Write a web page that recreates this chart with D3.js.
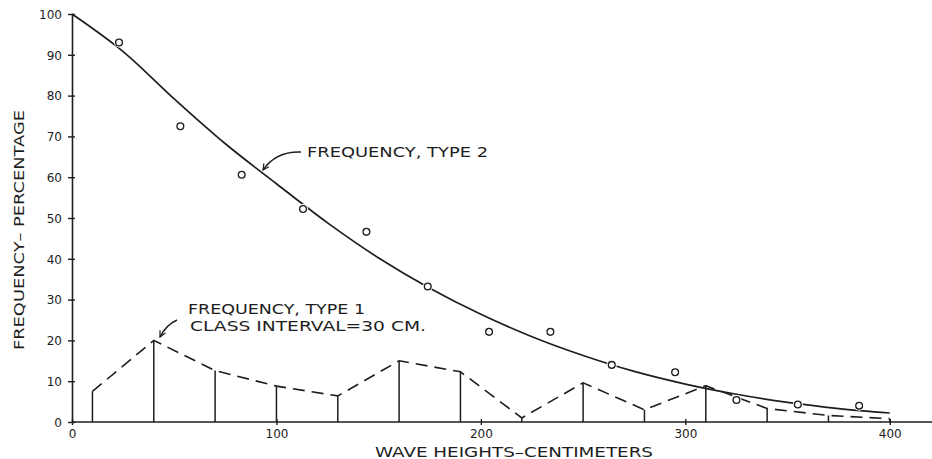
<!DOCTYPE html>
<html>
<head>
<meta charset="utf-8">
<script src="https://cdn.jsdelivr.net/npm/d3@7"></script>
<style>
  html, body { margin: 0; padding: 0; background: #fff; }
  svg { display: block; }
  text { font-family: "DejaVu Sans", sans-serif; fill: #1e1e1e; }
</style>
</head>
<body>
<svg id="chart" width="932" height="459"></svg>
<script>
// Class-interval frequencies (type 1), 30 cm classes
const classHeights = [10, 40, 70, 100, 130, 160, 190, 220, 250, 280, 310, 340, 370, 400];
const type1Freq = [7.5, 20, 12.6, 8.8, 6.4, 15, 12.3, 1, 9.6, 3, 8.9, 3.3, 1.6, 0.8];

// Observed cumulative frequencies (type 2)
const observedHeights = [23, 53, 83, 113, 144, 174, 204, 234, 264, 295, 325, 355, 385];
const observedFreq = [93, 72.5, 60.6, 52.2, 46.6, 33.2, 22.1, 22.1, 14, 12.2, 5.4, 4.3, 4.0];

// Smoothed type 2 curve
const curveHeights = [0, 25, 50, 75, 100, 125, 150, 175, 200, 225, 250, 275, 300, 325, 350, 375, 400];
const curveFreq = [100, 90.8, 79.2, 68.2, 58.4, 48.8, 40.2, 32.8, 26.4, 20.9, 16.3, 12.4, 9.3, 6.8, 4.8, 3.3, 2.2];

// Axis ticks
const xTicks = [0, 100, 200, 300, 400];
const yTicks = [0, 10, 20, 30, 40, 50, 60, 70, 80, 90, 100];

const ink = "#1e1e1e";
const svg = d3.select("#chart");

const x = d3.scaleLinear().domain([0, 400]).range([72, 889.8]);
const y = d3.scaleLinear().domain([0, 100]).range([422, 14]);

// Axes
const yAxis = svg.append("g")
  .attr("transform", `translate(${x(0)},0)`)
  .call(d3.axisLeft(y).tickValues(yTicks).tickSizeInner(4).tickSizeOuter(0).tickPadding(6));
yAxis.select(".domain").attr("stroke", ink).attr("stroke-width", 1.6);
yAxis.selectAll(".tick line").attr("x1", 3).attr("stroke", ink).attr("stroke-width", 1.4);
yAxis.selectAll(".tick text").style("font-size", "12px").attr("fill", ink).attr("dy", "0.36em");

const xAxis = svg.append("g")
  .attr("transform", `translate(0,${y(0)})`)
  .call(d3.axisBottom(x).tickValues(xTicks).tickSizeInner(3).tickSizeOuter(0).tickPadding(4));
xAxis.select(".domain").remove();
xAxis.selectAll(".tick line").attr("y1", -3).attr("stroke", ink).attr("stroke-width", 1.4);
xAxis.selectAll(".tick text").style("font-size", "12px").attr("fill", ink);

// Baseline runs on to the page edge
svg.append("line")
  .attr("x1", x(0)).attr("x2", 932)
  .attr("y1", y(0)).attr("y2", y(0))
  .attr("stroke", ink).attr("stroke-width", 1.6);

// Type 1: vertical class lines
svg.append("g").selectAll("line")
  .data(classHeights)
  .join("line")
  .attr("x1", d => x(d)).attr("x2", d => x(d))
  .attr("y1", y(0)).attr("y2", (d, i) => y(type1Freq[i]))
  .attr("stroke", ink).attr("stroke-width", 1.5);

// Type 1: dashed polygon
const type1Line = d3.line()
  .x((d, i) => x(classHeights[i]))
  .y(d => y(d));
svg.append("path")
  .datum(type1Freq)
  .attr("d", type1Line)
  .attr("fill", "none")
  .attr("stroke", ink)
  .attr("stroke-width", 1.6)
  .attr("stroke-dasharray", "12,7")
  .attr("stroke-linejoin", "miter");

// Type 2: smooth curve
const type2Line = d3.line()
  .x((d, i) => x(curveHeights[i]))
  .y(d => y(d))
  .curve(d3.curveCatmullRom.alpha(0.5));
svg.append("path")
  .datum(curveFreq)
  .attr("d", type2Line)
  .attr("fill", "none")
  .attr("stroke", ink)
  .attr("stroke-width", 1.7);

// Type 2: observed points (open circles with a small clear ring)
const pts = svg.append("g").selectAll("g")
  .data(observedFreq)
  .join("g")
  .attr("transform", (d, i) => `translate(${x(observedHeights[i])},${y(d)})`);
pts.append("circle").attr("r", 5).attr("fill", "#fff");
pts.append("circle").attr("r", 3.4).attr("fill", "#fff").attr("stroke", ink).attr("stroke-width", 1.3);

// Arrow head
svg.append("defs").append("marker")
  .attr("id", "head")
  .attr("viewBox", "-10 -5 12 10")
  .attr("refX", 0).attr("refY", 0)
  .attr("markerWidth", 9).attr("markerHeight", 9)
  .attr("markerUnits", "userSpaceOnUse")
  .attr("orient", "auto")
  .append("path")
  .attr("d", "M-8,-4 L0,0 L-8,4")
  .attr("fill", "none")
  .attr("stroke", ink)
  .attr("stroke-width", 1.6);

// Annotations
svg.append("path")
  .attr("d", "M301,152 Q276,151 263,170")
  .attr("fill", "none").attr("stroke", ink).attr("stroke-width", 1.5)
  .attr("marker-end", "url(#head)");
svg.append("text")
  .attr("x", 307).attr("y", 157)
  .attr("textLength", 181).attr("lengthAdjust", "spacingAndGlyphs")
  .style("font-size", "14px")
  .text("FREQUENCY, TYPE 2");

svg.append("path")
  .attr("d", "M177,320 Q166,325 160,337")
  .attr("fill", "none").attr("stroke", ink).attr("stroke-width", 1.5)
  .attr("marker-end", "url(#head)");
svg.append("text")
  .attr("x", 188).attr("y", 313.5)
  .attr("textLength", 177).attr("lengthAdjust", "spacingAndGlyphs")
  .style("font-size", "14px")
  .text("FREQUENCY, TYPE 1");
svg.append("text")
  .attr("x", 190).attr("y", 330.5)
  .attr("textLength", 236).attr("lengthAdjust", "spacingAndGlyphs")
  .style("font-size", "14px")
  .text("CLASS INTERVAL=30 CM.");

// Axis titles
svg.append("text")
  .attr("x", 514).attr("y", 456.5)
  .attr("text-anchor", "middle")
  .attr("textLength", 278).attr("lengthAdjust", "spacingAndGlyphs")
  .style("font-size", "14.5px")
  .text("WAVE HEIGHTS–CENTIMETERS");

svg.append("text")
  .attr("transform", "translate(23.5,230) rotate(-90)")
  .attr("text-anchor", "middle")
  .attr("textLength", 240).attr("lengthAdjust", "spacingAndGlyphs")
  .style("font-size", "14px")
  .text("FREQUENCY– PERCENTAGE");
</script>
</body>
</html>
